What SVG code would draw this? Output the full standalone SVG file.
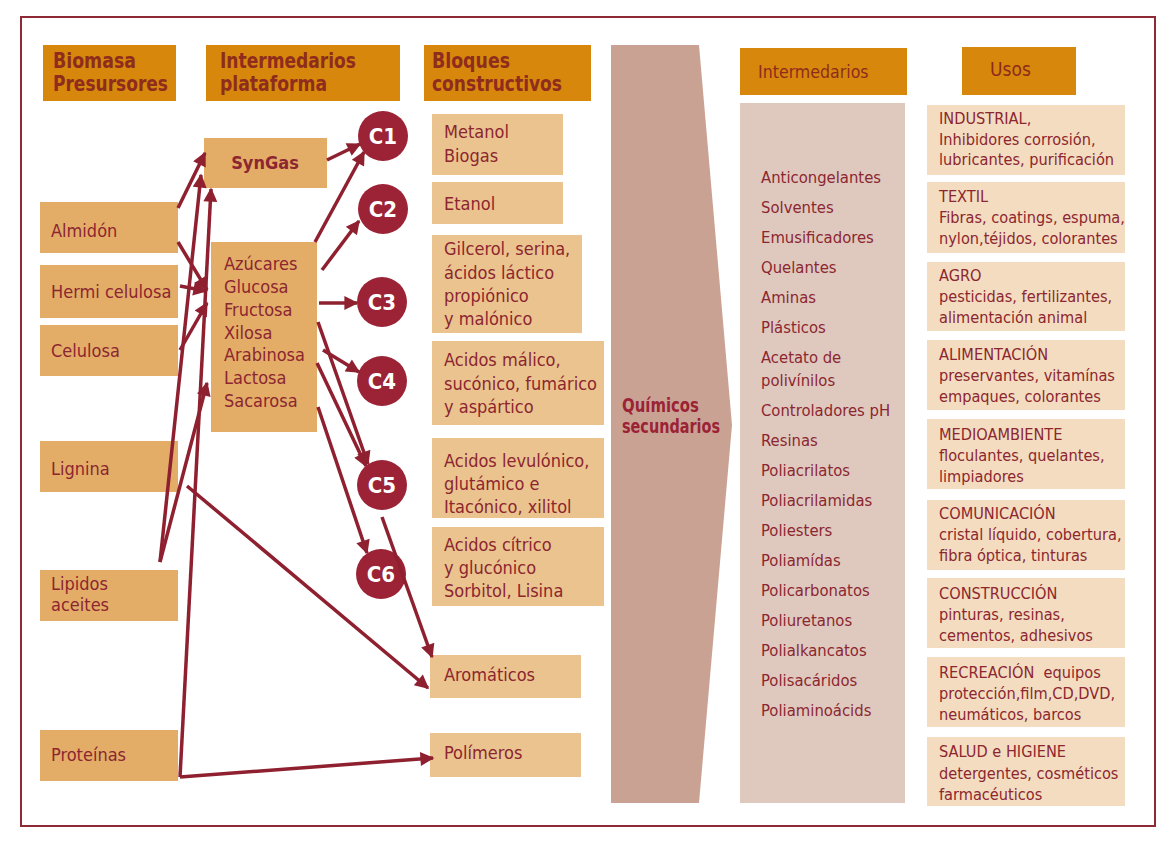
<svg xmlns="http://www.w3.org/2000/svg" width="1175" height="847" viewBox="0 0 1175 847">
<defs>
<style>
text{font-family:"Liberation Sans Narrow","DejaVu Sans Condensed","Roboto Condensed",Roboto,sans-serif;fill:#8C2630;font-size:18px}
.hd{fill:#D7870B}
.hdt{font-weight:bold;font-size:22px;fill:#8E2C1E}
.hdn{font-size:17.6px;fill:#8E2C1E}
.bio{fill:#E3AD68}
.blk{fill:#EBC38E}
.lst text{font-size:16.5px}
.uso{fill:#F3DCBF}
.uso text{font-size:16.2px}
.qs{font-weight:bold;font-size:19px;fill:#9B2335}
.circ circle{fill:#9B2335}
.circ text{fill:#fff;font-weight:bold;font-size:22px;text-anchor:middle}
.con line{stroke:#8E2030;stroke-width:3.5;fill:none}
.ar{marker-end:url(#ah)}
</style>
<marker id="ah" viewBox="0 0 10 10" refX="9" refY="5" markerUnits="userSpaceOnUse" markerWidth="16" markerHeight="14" orient="auto">
<path d="M0,0 L10,5 L0,10 z" fill="#8E2030"/>
</marker>
</defs>
<rect x="0" y="0" width="1175" height="847" fill="#fff"/>
<rect x="21" y="17" width="1134" height="809" fill="none" stroke="#8E2A35" stroke-width="2"/>

<g id="hdr-biomasa"><rect class="hd" x="43" y="45" width="133" height="56"/><text class="hdt" x="53" y="68" textLength="83" lengthAdjust="spacingAndGlyphs">Biomasa</text><text class="hdt" x="53" y="91" textLength="115" lengthAdjust="spacingAndGlyphs">Presursores</text></g>
<g id="hdr-intermediarios"><rect class="hd" x="206" y="45" width="194" height="56"/><text class="hdt" x="220" y="68" textLength="136" lengthAdjust="spacingAndGlyphs">Intermedarios</text><text class="hdt" x="220" y="91" textLength="107" lengthAdjust="spacingAndGlyphs">plataforma</text></g>
<g id="hdr-bloques"><rect class="hd" x="424" y="45" width="167" height="56"/><text class="hdt" x="432" y="68" textLength="78" lengthAdjust="spacingAndGlyphs">Bloques</text><text class="hdt" x="432" y="91" textLength="130" lengthAdjust="spacingAndGlyphs">constructivos</text></g>
<g id="hdr-intermedarios"><rect class="hd" x="740" y="48" width="167" height="47"/><text class="hdn" x="758" y="78">Intermedarios</text></g>
<g id="hdr-usos"><rect class="hd" x="962" y="47" width="114" height="48"/><text class="hdn" x="990" y="76" style="font-size:19px">Usos</text></g>

<g id="almidon"><rect class="bio" x="40" y="202" width="138" height="51"/><text x="51" y="237">Almidón</text></g>
<g id="hermi"><rect class="bio" x="40" y="265" width="138" height="53"/><text x="51" y="298">Hermi celulosa</text></g>
<g id="celulosa"><rect class="bio" x="40" y="325" width="138" height="51"/><text x="51" y="357">Celulosa</text></g>
<g id="lignina"><rect class="bio" x="40" y="441" width="138" height="51"/><text x="51" y="475">Lignina</text></g>
<g id="lipidos"><rect class="bio" x="40" y="570" width="138" height="51"/><text x="51" y="590">Lipidos</text><text x="51" y="611">aceites</text></g>
<g id="proteinas"><rect class="bio" x="40" y="730" width="138" height="51"/><text x="51" y="761">Proteínas</text></g>

<g id="syngas"><rect class="bio" x="204" y="138" width="123" height="50"/><text x="265" y="169" text-anchor="middle" font-weight="bold">SynGas</text></g>
<g id="azucares"><rect class="bio" x="211" y="242" width="106" height="190"/>
<text x="224" y="270">Azúcares</text><text x="224" y="293">Glucosa</text><text x="224" y="316">Fructosa</text><text x="224" y="339">Xilosa</text><text x="224" y="361">Arabinosa</text><text x="224" y="384">Lactosa</text><text x="224" y="407">Sacarosa</text></g>

<g id="c1" class="circ"><circle cx="383" cy="136" r="25"/><text x="383" y="144">C1</text></g>
<g id="c2" class="circ"><circle cx="383" cy="209" r="25"/><text x="383" y="217">C2</text></g>
<g id="c3" class="circ"><circle cx="382" cy="302" r="25"/><text x="382" y="310">C3</text></g>
<g id="c4" class="circ"><circle cx="382" cy="381" r="25"/><text x="382" y="389">C4</text></g>
<g id="c5" class="circ"><circle cx="382" cy="485" r="25"/><text x="382" y="493">C5</text></g>
<g id="c6" class="circ"><circle cx="381" cy="574" r="25"/><text x="381" y="582">C6</text></g>

<g id="b-metanol"><rect class="blk" x="432" y="114" width="131" height="61"/><text x="444" y="138">Metanol</text><text x="444" y="162">Biogas</text></g>
<g id="b-etanol"><rect class="blk" x="432" y="182" width="131" height="42"/><text x="444" y="210">Etanol</text></g>
<g id="b-gilcerol"><rect class="blk" x="432" y="235" width="150" height="98"/><text x="444" y="255">Gilcerol, serina,</text><text x="444" y="279">ácidos láctico</text><text x="444" y="302">propiónico</text><text x="444" y="325">y malónico</text></g>
<g id="b-malico"><rect class="blk" x="432" y="341" width="172" height="84"/><text x="444" y="366">Acidos málico,</text><text x="444" y="390">sucónico, fumárico</text><text x="444" y="413">y aspártico</text></g>
<g id="b-levulonico"><rect class="blk" x="432" y="438" width="172" height="80"/><text x="444" y="467">Acidos levulónico,</text><text x="444" y="490">glutámico e</text><text x="444" y="513">Itacónico, xilitol</text></g>
<g id="b-citrico"><rect class="blk" x="432" y="527" width="172" height="79"/><text x="444" y="551">Acidos cítrico</text><text x="444" y="574">y glucónico</text><text x="444" y="597">Sorbitol, Lisina</text></g>
<g id="b-aromaticos"><rect class="blk" x="430" y="655" width="151" height="43"/><text x="444" y="681">Aromáticos</text></g>
<g id="b-polimeros"><rect class="blk" x="430" y="733" width="151" height="44"/><text x="444" y="759">Polímeros</text></g>

<g id="quimicos"><polygon points="611,45 699,45 732,425 699,803 611,803" fill="#C9A294"/><text class="qs" x="622" y="412" textLength="77" lengthAdjust="spacingAndGlyphs">Químicos</text><text class="qs" x="622" y="433" textLength="98" lengthAdjust="spacingAndGlyphs">secundarios</text></g>

<g id="intermedarios-list" class="lst"><rect x="740" y="103" width="165" height="700" fill="#DFC9BE"/>
<text x="761" y="183">Anticongelantes</text><text x="761" y="213">Solventes</text><text x="761" y="243">Emusificadores</text><text x="761" y="273">Quelantes</text><text x="761" y="303">Aminas</text><text x="761" y="333">Plásticos</text><text x="761" y="363">Acetato de</text><text x="761" y="386">polivínilos</text><text x="761" y="416">Controladores pH</text><text x="761" y="446">Resinas</text><text x="761" y="476">Poliacrilatos</text><text x="761" y="506">Poliacrilamidas</text><text x="761" y="536">Poliesters</text><text x="761" y="566">Poliamídas</text><text x="761" y="596">Policarbonatos</text><text x="761" y="626">Poliuretanos</text><text x="761" y="656">Polialkancatos</text><text x="761" y="686">Polisacáridos</text><text x="761" y="716">Poliaminoácids</text></g>

<g id="u-industrial" class="uso"><rect x="927" y="105" width="198" height="70"/><text x="939" y="124">INDUSTRIAL,</text><text x="939" y="145">Inhibidores corrosión,</text><text x="939" y="165">lubricantes, purificación</text></g>
<g id="u-textil" class="uso"><rect x="927" y="182" width="198" height="71"/><text x="939" y="202">TEXTIL</text><text x="939" y="223">Fibras, coatings, espuma,</text><text x="939" y="244">nylon,téjidos, colorantes</text></g>
<g id="u-agro" class="uso"><rect x="927" y="262" width="198" height="69"/><text x="939" y="281">AGRO</text><text x="939" y="302">pesticidas, fertilizantes,</text><text x="939" y="323">alimentación animal</text></g>
<g id="u-alimentacion" class="uso"><rect x="927" y="340" width="198" height="70"/><text x="939" y="360">ALIMENTACIÓN</text><text x="939" y="381">preservantes, vitamínas</text><text x="939" y="402">empaques, colorantes</text></g>
<g id="u-medioambiente" class="uso"><rect x="927" y="419" width="198" height="70"/><text x="939" y="440">MEDIOAMBIENTE</text><text x="939" y="461">floculantes, quelantes,</text><text x="939" y="482">limpiadores</text></g>
<g id="u-comunicacion" class="uso"><rect x="927" y="500" width="198" height="70"/><text x="939" y="519">COMUNICACIÓN</text><text x="939" y="540">cristal líquido, cobertura,</text><text x="939" y="561">fibra óptica, tinturas</text></g>
<g id="u-construccion" class="uso"><rect x="927" y="578" width="198" height="70"/><text x="939" y="599">CONSTRUCCIÓN</text><text x="939" y="620">pinturas, resinas,</text><text x="939" y="641">cementos, adhesivos</text></g>
<g id="u-recreacion" class="uso"><rect x="927" y="657" width="198" height="70"/><text x="939" y="678" xml:space="preserve">RECREACIÓN  equipos</text><text x="939" y="699">protección,film,CD,DVD,</text><text x="939" y="720">neumáticos, barcos</text></g>
<g id="u-salud" class="uso"><rect x="927" y="737" width="198" height="69"/><text x="939" y="757">SALUD e HIGIENE</text><text x="939" y="779">detergentes, cosméticos</text><text x="939" y="800">farmacéuticos</text></g>

<g id="connectors" class="con">
<line class="ar" x1="178" y1="208" x2="205" y2="153"/>
<line class="ar" x1="160" y1="562" x2="201" y2="175"/>
<line class="ar" x1="180" y1="777" x2="211" y2="189"/>
<line class="ar" x1="178" y1="242" x2="207" y2="290"/>
<line class="ar" x1="180" y1="286" x2="206" y2="291"/>
<line class="ar" x1="180" y1="350" x2="207" y2="303"/>
<line class="ar" x1="160" y1="562" x2="207" y2="383"/>
<line class="ar" x1="187" y1="486" x2="428" y2="688"/>
<line class="ar" x1="180" y1="777" x2="433" y2="758"/>
<line class="ar" x1="327" y1="160" x2="360" y2="144"/>
<line class="ar" x1="315" y1="242" x2="364" y2="152"/>
<line class="ar" x1="322" y1="270" x2="359" y2="221"/>
<line class="ar" x1="319" y1="303" x2="357" y2="303"/>
<line class="ar" x1="323" y1="350" x2="359" y2="372"/>
<line class="ar" x1="318" y1="322" x2="368" y2="464"/>
<line class="ar" x1="317" y1="363" x2="366" y2="466"/>
<line class="ar" x1="318" y1="407" x2="367" y2="553"/>
<line class="ar" x1="382" y1="517" x2="432" y2="657"/>
</g>
</svg>
